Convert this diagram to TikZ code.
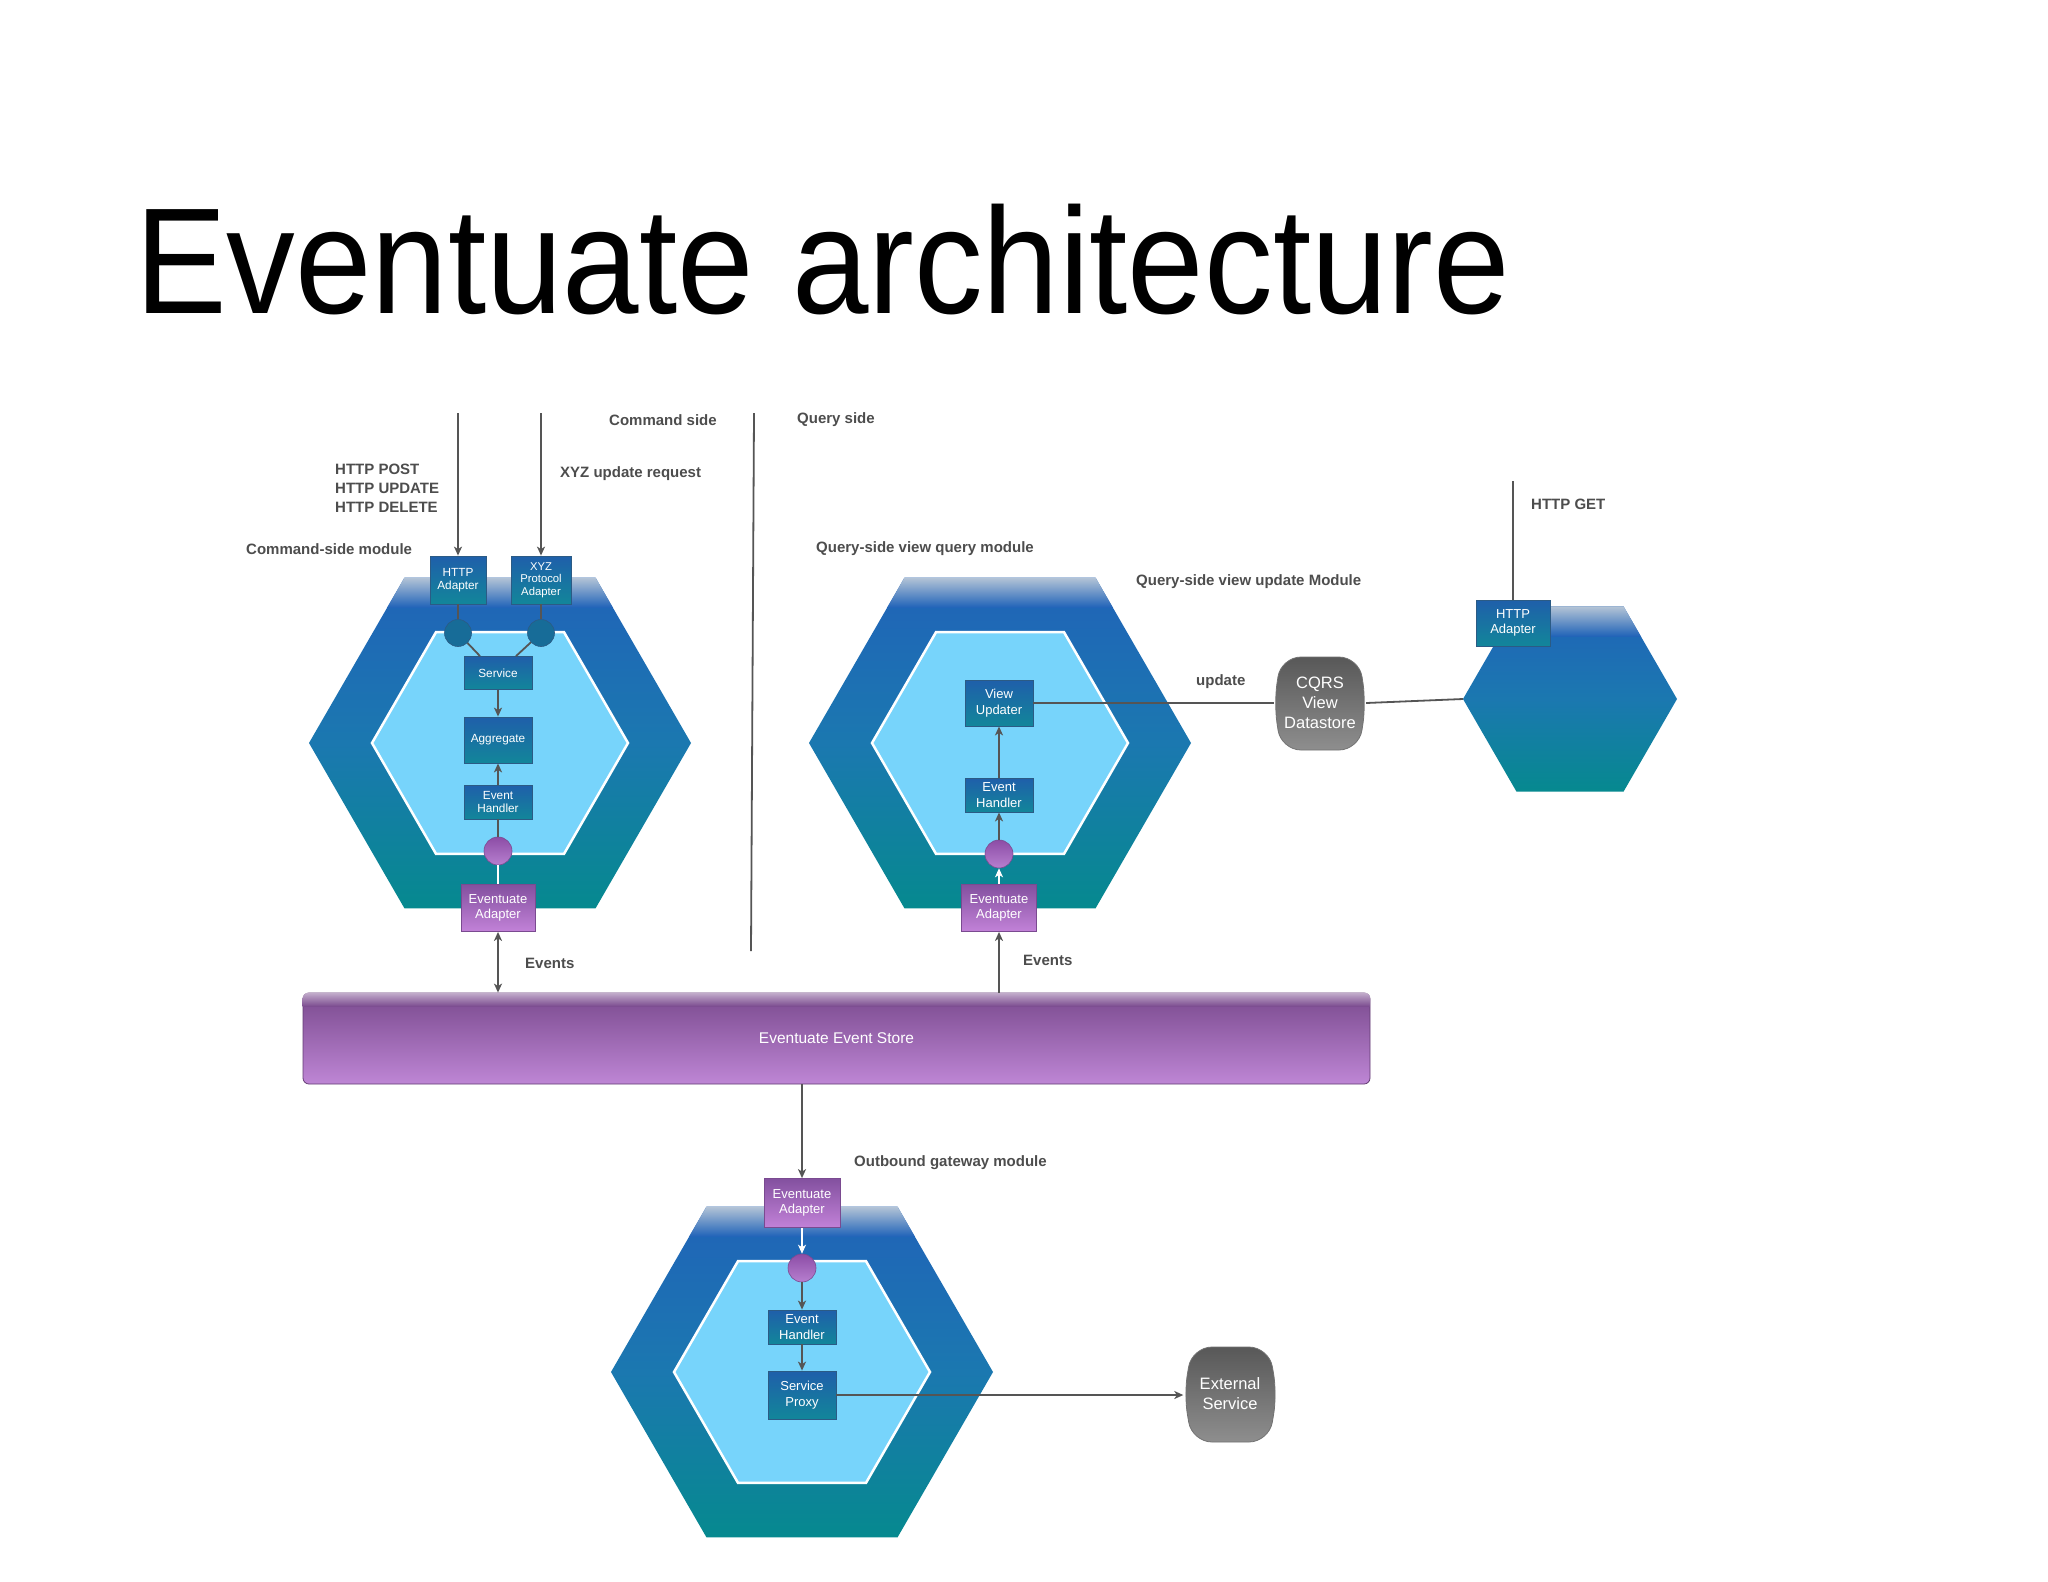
\documentclass[tikz,border=0pt]{standalone}
\usepackage{fontspec}
\setmainfont{Liberation Sans}
\usetikzlibrary{arrows.meta,calc}
\definecolor{hexHi}{HTML}{B4C4D6}
\definecolor{hexA}{HTML}{2063B8}
\definecolor{hexB}{HTML}{1B78B0}
\definecolor{hexC}{HTML}{06898F}
\definecolor{innerc}{HTML}{77D4FB}
\definecolor{boxA}{HTML}{1F5FAA}
\definecolor{boxB}{HTML}{12869A}
\definecolor{boxE}{HTML}{2B5B85}
\definecolor{purA}{HTML}{83509F}
\definecolor{purB}{HTML}{C282D8}
\definecolor{purE}{HTML}{7A4A90}
\definecolor{labg}{HTML}{4D4D4D}
\definecolor{lineg}{HTML}{555555}
\definecolor{grayA}{HTML}{585858}
\definecolor{grayB}{HTML}{8E8E8E}
\definecolor{bcirc}{HTML}{176C98}
\definecolor{pcircA}{HTML}{8C4DA6}
\definecolor{pcircB}{HTML}{B77FCF}
\definecolor{storeA}{HTML}{7A4A8E}
\definecolor{storeB}{HTML}{BE86D5}
\newcommand\hexp[3]{({#1-#3},#2) -- ({#1-#3/2},{#2-0.866*#3}) -- ({#1+#3/2},{#2-0.866*#3}) -- ({#1+#3},#2) -- ({#1+#3/2},{#2+0.866*#3}) -- ({#1-#3/2},{#2+0.866*#3}) -- cycle}
\newcommand\outhex[3]{%
  \path[top color=hexA, bottom color=hexC, middle color=hexB] \hexp{#1}{#2}{#3};
  \begin{scope}
    \clip \hexp{#1}{#2}{#3};
    \path[top color=hexHi, bottom color=hexA] ({#1-#3},{#2-0.866*#3}) rectangle ({#1+#3},{#2-0.866*#3+30});
  \end{scope}}
\newcommand\inhex[3]{\path[fill=innerc, draw=white, line width=2.5pt] \hexp{#1}{#2}{#3};}
\tikzset{
 bbox/.style={rectangle, top color=boxA, bottom color=boxB, draw=boxE, line width=0.8pt, text=white, align=center, inner sep=0pt, font=\fontsize{11.8}{13.5}\selectfont},
 qbox/.style={bbox, font=\fontsize{13}{15.5}\selectfont},
 pbox/.style={rectangle, top color=purA, bottom color=purB, draw=purE, line width=0.8pt, text=white, align=center, inner sep=0pt, font=\fontsize{13}{15.5}\selectfont},
 lab/.style={text=labg, font=\bfseries\fontsize{15}{19}\selectfont, anchor=west, inner sep=0pt, align=left},
 conn/.style={draw=lineg, line width=1.8pt},
 wconn/.style={draw=white, line width=1.8pt},
 >={Stealth[length=9pt,width=8pt,inset=2.5pt]},
 bdot/.style={circle, fill=bcirc, draw=boxE, line width=0.6pt, minimum size=27pt, inner sep=0pt},
 pdot/.style={circle, top color=pcircA, bottom color=pcircB, draw=purE, line width=0.6pt, minimum size=28pt, inner sep=0pt},
 gshape/.style={top color=grayA, bottom color=grayB, draw=grayB!80!black, line width=0.8pt, rounded corners=20pt},
 gtext/.style={text=white, align=center, inner sep=0pt, font=\fontsize{16.5}{20}\selectfont},
}
\begin{document}
\begin{tikzpicture}[x=1pt,y=-1pt]
\useasboundingbox (0,0) rectangle (2048,1582);
\fill[white] (0,0) rectangle (2048,1582);
% title
\node[anchor=base west, inner sep=0pt, font=\fontsize{151}{151}\selectfont, xscale=0.91, text=black] (title) at (135,313) {Eventuate architecture};

% hexagons
\outhex{500}{743}{191}
\inhex{500}{743}{128}
\outhex{1000}{743}{191}
\inhex{1000}{743}{128}
\outhex{802}{1372}{191}
\inhex{802}{1372}{128}
\outhex{1570}{699}{107}

% gray shapes
\path[gshape] (1281,657) -- (1359,657) -- (1366,703) -- (1359,750) -- (1281,750) -- (1274,703) -- cycle;
\path[gshape] (1192,1347) -- (1269,1347) -- (1277,1394) -- (1269,1442) -- (1192,1442) -- (1184,1394) -- cycle;
\node[gtext, minimum width=92pt, minimum height=93pt] (cqrs) at (1320,703) {CQRS\\View\\Datastore};
\node[gtext, minimum width=93pt, minimum height=95pt] (ext) at (1230,1394) {External\\Service};

% event store
\node[rectangle, rounded corners=6pt, top color=storeA, bottom color=storeB, draw=storeA!80!black, line width=0.8pt, minimum width=1067pt, minimum height=91pt, text=white, font=\fontsize{15.5}{18}\selectfont] (store) at (836.5,1038.5) {Eventuate Event Store};
\begin{scope}
  \clip[rounded corners=6pt] (store.north west) rectangle (store.south east);
  \path[top color=storeA!45!white, bottom color=storeA] (store.north west) rectangle ($(store.north east)+(0,14)$);
\end{scope}

% command module
\node[bbox, minimum width=56pt, minimum height=48pt] (httpad) at (458,580) {HTTP\\Adapter};
\node[bbox, minimum width=60pt, minimum height=48pt, font=\fontsize{11.3}{12.6}\selectfont] (xyzad) at (541,580) {XYZ\\Protocol\\Adapter};
\node[bdot] (bc1) at (458,633) {};
\node[bdot] (bc2) at (541,633) {};
\node[bbox, minimum width=68pt, minimum height=33pt] (service) at (498,673) {Service};
\node[bbox, minimum width=68pt, minimum height=46pt] (aggregate) at (498,740) {Aggregate};
\node[bbox, minimum width=68pt, minimum height=34pt] (ceh) at (498,802) {Event\\Handler};
\node[pdot] (cpc) at (498,851) {};
\node[pbox, minimum width=74pt, minimum height=47pt] (cad) at (498,908) {Eventuate\\Adapter};

% query module
\node[qbox, minimum width=68pt, minimum height=46pt] (vu) at (999,703) {View\\Updater};
\node[qbox, minimum width=68pt, minimum height=34pt] (qeh) at (999,795) {Event\\Handler};
\node[pdot] (qpc) at (999,854) {};
\node[pbox, minimum width=75pt, minimum height=47pt] (qad) at (999,908) {Eventuate\\Adapter};
\node[qbox, minimum width=74pt, minimum height=46pt] (rhttp) at (1513,623) {HTTP\\Adapter};

% outbound module
\node[pbox, minimum width=76pt, minimum height=49pt] (oad) at (802,1203) {Eventuate\\Adapter};
\node[pdot] (opc) at (802,1268) {};
\node[qbox, minimum width=68pt, minimum height=34pt] (oeh) at (802,1327) {Event\\Handler};
\node[qbox, minimum width=68pt, minimum height=48pt] (osp) at (802,1395) {Service\\Proxy};

% labels
\node[lab] (lcs) at (609,420) {Command side};
\node[lab] (lqs) at (797,420) {Query side};
\node[lab] (lhttp) at (335,488) {HTTP POST\\HTTP UPDATE\\HTTP DELETE};
\node[lab] (lxyz) at (560,474) {XYZ update request};
\node[lab] (lcsm) at (246,549) {Command-side module};
\node[lab] (lqvq) at (816,549) {Query-side view query module};
\node[lab] (lqvu) at (1136,582) {Query-side view update Module};
\node[lab] (lget) at (1531,504) {HTTP GET};
\node[lab] (lupd) at (1196,682) {update};
\node[lab] (lev1) at (525,963) {Events};
\node[lab] (lev2) at (1023,960) {Events};
\node[lab] (lout) at (854,1163) {Outbound gateway module};

% connectors
\coordinate (in1) at (458,413);
\coordinate (in2) at (541,413);
\coordinate (getin) at (1513,481);
\coordinate (d1) at (754,413);
\coordinate (d2) at (751,951);
\coordinate (rhexW) at (1463,699);
\draw[conn] (d1) -- (d2);
\draw[conn,->] (in1) -- (httpad.north);
\draw[conn,->] (in2) -- (xyzad.north);
\draw[conn] (httpad.south) -- (bc1.north);
\draw[conn] (xyzad.south) -- (bc2.north);
\draw[conn] (bc1) -- ([xshift=-18pt]service.north);
\draw[conn] (bc2) -- ([xshift=18pt]service.north);
\draw[conn,->] (service) -- (aggregate);
\draw[conn,->] (ceh) -- (aggregate);
\draw[conn] (ceh) -- (cpc);
\draw[wconn] (cpc) -- (cad);
\draw[conn,<->] (cad.south) -- (cad.south |- store.north);

\draw[wconn,->] (qad) -- (qpc);
\draw[conn,->] (qpc) -- (qeh);
\draw[conn,->] (qeh) -- (vu);
\draw[conn] (vu.east) -- (cqrs.west);
\draw[conn] (cqrs.east) -- (rhexW);
\draw[conn,->] (qad.south |- store.north) -- (qad.south);
\draw[conn] (getin) -- (rhttp.north);

\draw[conn,->] (oad.north |- store.south) -- (oad.north);
\draw[wconn,->] (oad) -- (opc);
\draw[conn,->] (opc) -- (oeh);
\draw[conn,->] (oeh) -- (osp);
\draw[conn,->] (osp.east) -- (osp.east -| ext.west);
\end{tikzpicture}
\end{document}
